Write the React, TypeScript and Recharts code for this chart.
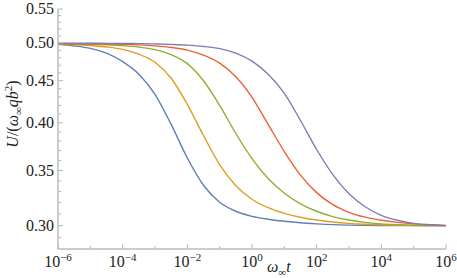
import React from 'react'
import { LineChart, Line, XAxis, YAxis } from 'recharts'

// ω∞t sample points (half decades)
const TIME = [
  1e-6, 3.16e-6, 1e-5, 3.16e-5, 1e-4, 3.16e-4, 1e-3, 3.16e-3, 1e-2, 3.16e-2, 0.1, 0.316, 1,
  3.16, 10, 31.6, 100, 316, 1e3, 3.16e3, 1e4, 3.16e4, 1e5, 3.16e5, 1e6,
]

const BLUE = [
  0.4981, 0.496, 0.4926, 0.486, 0.4746, 0.4582, 0.4332, 0.3982, 0.3625, 0.3359, 0.3203, 0.3123,
  0.3079, 0.3054, 0.3037, 0.3024, 0.3015, 0.3008, 0.3004, 0.3002, 0.3001, 0.3, 0.3, 0.3, 0.3,
]
const ORANGE = [
  0.4985, 0.4978, 0.4967, 0.4946, 0.4912, 0.4847, 0.4739, 0.4531, 0.4212, 0.386, 0.3559, 0.3355,
  0.323, 0.3154, 0.3105, 0.3071, 0.3047, 0.303, 0.3019, 0.3012, 0.3007, 0.3003, 0.3001, 0.3, 0.3,
]
const GREEN = [
  0.4988, 0.4986, 0.4984, 0.4977, 0.4965, 0.4945, 0.4909, 0.484, 0.472, 0.4499, 0.42, 0.3882,
  0.3619, 0.3422, 0.3285, 0.3189, 0.3123, 0.3077, 0.3047, 0.3027, 0.3015, 0.3008, 0.3003, 0.3001, 0.3,
]
const RED = [
  0.4992, 0.499, 0.4989, 0.4986, 0.4982, 0.4974, 0.4961, 0.4939, 0.4902, 0.4833, 0.4726, 0.455,
  0.4296, 0.3982, 0.3691, 0.3455, 0.329, 0.3181, 0.3114, 0.3072, 0.3045, 0.3027, 0.3015, 0.3008, 0.3002,
]
const PURPLE = [
  0.4999, 0.4999, 0.4997, 0.4996, 0.4995, 0.4992, 0.4988, 0.4981, 0.4971, 0.4953, 0.4922, 0.486,
  0.4753, 0.4582, 0.4344, 0.4026, 0.3712, 0.346, 0.328, 0.3163, 0.3088, 0.3045, 0.3019, 0.3007, 0.3,
]

const X_TICKS = [1e-6, 1e-5, 1e-4, 1e-3, 1e-2, 1e-1, 1, 10, 100, 1e3, 1e4, 1e5, 1e6]
const Y_TICKS = [
  0.29, 0.3, 0.31, 0.32, 0.33, 0.34, 0.35, 0.36, 0.37, 0.38, 0.39, 0.4, 0.41, 0.42, 0.43, 0.44,
  0.45, 0.46, 0.47, 0.48, 0.49, 0.5, 0.51, 0.52, 0.53, 0.54, 0.55,
]

const SERIES = [
  { key: 'blue', values: BLUE, color: '#5E81B5' },
  { key: 'orange', values: ORANGE, color: '#E19C24' },
  { key: 'green', values: GREEN, color: '#8FB032' },
  { key: 'red', values: RED, color: '#EB6235' },
  { key: 'purple', values: PURPLE, color: '#8778B3' },
]

const data = TIME.map((t, i) => {
  const row: Record<string, number> = { t }
  SERIES.forEach((s) => {
    row[s.key] = s.values[i]
  })
  return row
})

const FONT = "'Liberation Serif', 'DejaVu Serif', 'Noto Serif', serif"
const AXIS = '#9a9a9a'
const TICK = '#b5b5b5'
const txt = { fontFamily: FONT, fontSize: 16, fill: '#222' }

const exponentOf = (v: number) => Math.round(Math.log10(v))
const isMajorY = (v: number) => Math.round(v * 100) % 5 === 0

const BottomTick = ({ x, y, payload }: any) => {
  const e = exponentOf(payload.value)
  const major = e % 2 === 0
  return (
    <g>
      <line x1={x} x2={x} y1={y} y2={y - (major ? 5 : 3)} stroke={TICK} />
      {major && (
        <text x={x} y={y + 17.5} textAnchor="middle" style={txt}>
          10
          <tspan dy={-6} style={{ fontSize: 11 }}>
            {e < 0 ? `\u2212${-e}` : `${e}`}
          </tspan>
        </text>
      )}
    </g>
  )
}

const TopTick = ({ x, y, payload }: any) => {
  const major = exponentOf(payload.value) % 2 === 0
  return <line x1={x} x2={x} y1={y} y2={y + (major ? 5 : 3)} stroke={TICK} />
}

const LeftTick = ({ x, y, payload }: any) => {
  const major = isMajorY(payload.value)
  return (
    <g>
      <line x1={x} x2={x + (major ? 5 : 3)} y1={y} y2={y} stroke={TICK} />
      {major && (
        <text x={x - 4} y={y + 5} textAnchor="end" style={txt}>
          {payload.value.toFixed(2)}
        </text>
      )}
    </g>
  )
}

const RightTick = ({ x, y, payload }: any) => {
  const major = isMajorY(payload.value)
  return <line x1={x} x2={x - (major ? 5 : 3)} y1={y} y2={y} stroke={TICK} />
}

export default function App() {
  return (
    <div style={{ position: 'absolute', left: 0, top: 0, width: 457, height: 278, background: '#fff' }}>
      <LineChart width={457} height={278} data={data} margin={{ top: 9, right: 11, bottom: 0, left: 0 }}>
        <XAxis
          dataKey="t"
          type="number"
          scale="log"
          domain={[1e-6, 1e6]}
          allowDataOverflow
          ticks={X_TICKS}
          interval={0}
          tickSize={0}
          tickMargin={0}
          tickLine={false}
          tick={<BottomTick />}
          axisLine={{ stroke: AXIS }}
          height={29}
        />
        <XAxis
          xAxisId="top"
          orientation="top"
          dataKey="t"
          type="number"
          scale="log"
          domain={[1e-6, 1e6]}
          allowDataOverflow
          ticks={X_TICKS}
          interval={0}
          tickSize={0}
          tickMargin={0}
          tickLine={false}
          tick={<TopTick />}
          axisLine={{ stroke: AXIS }}
          height={0}
        />
        <YAxis
          type="number"
          scale="log"
          domain={[0.281, 0.55]}
          allowDataOverflow
          ticks={Y_TICKS}
          interval={0}
          tickSize={0}
          tickMargin={0}
          tickLine={false}
          tick={<LeftTick />}
          axisLine={{ stroke: AXIS }}
          width={58}
        />
        <YAxis
          yAxisId="right"
          orientation="right"
          type="number"
          scale="log"
          domain={[0.281, 0.55]}
          allowDataOverflow
          ticks={Y_TICKS}
          interval={0}
          tickSize={0}
          tickMargin={0}
          tickLine={false}
          tick={<RightTick />}
          axisLine={{ stroke: AXIS }}
          width={0}
        />
        {SERIES.map((s) => (
          <Line
            key={s.key}
            dataKey={s.key}
            type="monotone"
            stroke={s.color}
            strokeWidth={1.4}
            dot={false}
            isAnimationActive={false}
          />
        ))}
      </LineChart>
      <svg width={457} height={278} style={{ position: 'absolute', left: 0, top: 0, pointerEvents: 'none' }}>
        <text transform="translate(18,114) rotate(-90)" textAnchor="middle" style={txt}>
          <tspan fontStyle="italic">U</tspan>/(<tspan fontStyle="italic">ω</tspan>
          <tspan dy={4} style={{ fontSize: 11 }}>∞</tspan>
          <tspan dy={-4} fontStyle="italic">qb</tspan>
          <tspan dy={-6} style={{ fontSize: 11 }}>2</tspan>
          <tspan dy={6}>)</tspan>
        </text>
        <text x={267} y={272} style={txt}>
          <tspan fontStyle="italic">ω</tspan>
          <tspan dy={4} style={{ fontSize: 11 }}>∞</tspan>
          <tspan dy={-4} fontStyle="italic">t</tspan>
        </text>
      </svg>
    </div>
  )
}
